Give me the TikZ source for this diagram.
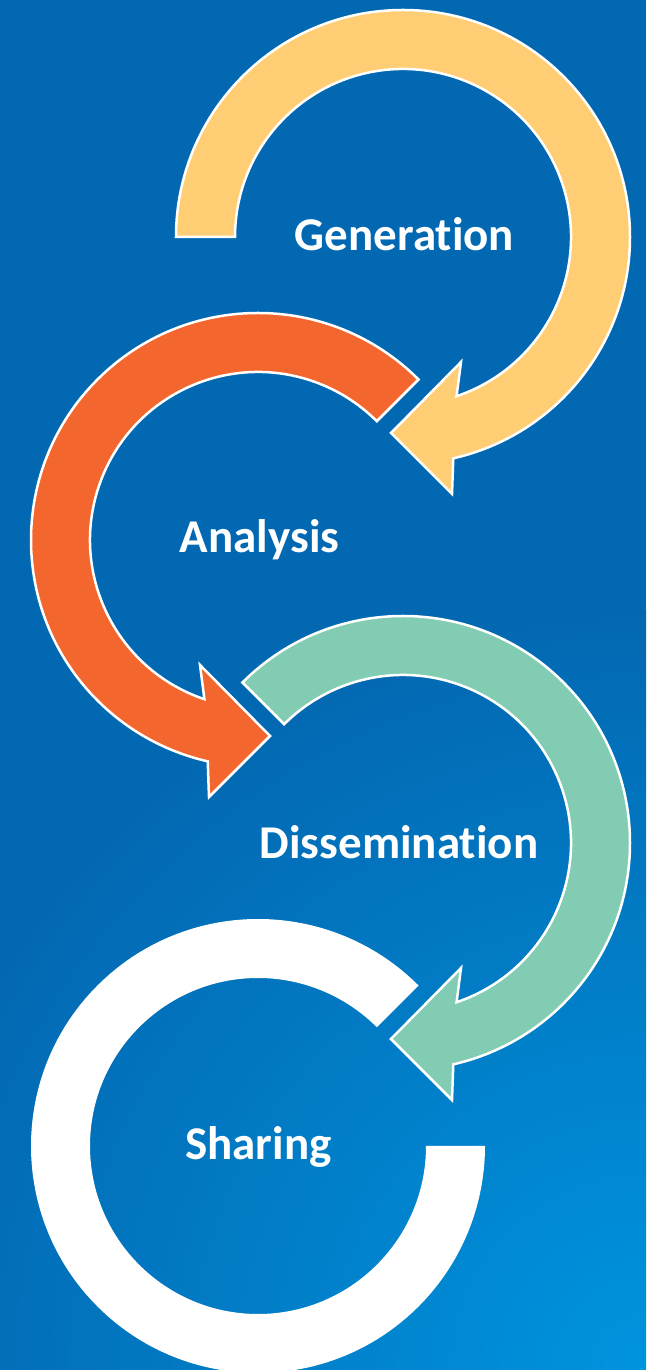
\documentclass[tikz,border=0pt]{standalone}
\usepackage{fontspec}
\setmainfont{Carlito}[Ligatures=NoCommon]
\definecolor{bgblue}{RGB}{3,104,178}
\definecolor{bglight}{RGB}{0,148,222}
\definecolor{genyellow}{RGB}{255,206,116}
\definecolor{anaorange}{RGB}{243,102,46}
\definecolor{disteal}{RGB}{131,204,180}
\tikzset{
  band/.style={draw=white, line width=2.5pt, line join=miter},
  lbl/.style={text=white, font=\fontsize{47}{56}\selectfont\bfseries, inner sep=0pt, anchor=base}
}
\begin{document}
\begin{tikzpicture}[x=1pt,y=1pt]
  \useasboundingbox (0,0) rectangle (646,1370);
  % background with light corner glow
  \fill[bgblue] (0,0) rectangle (646,1370);
  \begin{scope}
    \clip (0,0) rectangle (646,1370);
    \shade[inner color=bglight, outer color=bgblue] (646,0) circle (760);
  \end{scope}

  % Generation: clockwise arc ending in an arrowhead
  \path[band, fill=genyellow, shift={(403,1133)}]
    (180:227) arc[start angle=180, end angle=-77.2, radius=227]
    -- (49,-257) -- (-12,-196) -- (58,-125)
    -- (-71.4:168) arc[start angle=-71.4, end angle=180, radius=168] -- cycle;

  % Analysis: counter-clockwise arc ending in an arrowhead
  \path[band, fill=anaorange, shift={(258,830)}]
    (45:227) arc[start angle=45, end angle=257.2, radius=227]
    -- (-49,-257) -- (12,-196) -- (-58,-125)
    -- (251.4:168) arc[start angle=251.4, end angle=45, radius=168] -- cycle;

  % Dissemination
  \path[band, fill=disteal, shift={(403,527)}]
    (135:227) arc[start angle=135, end angle=-77.2, radius=227]
    -- (49,-257) -- (-12,-196) -- (58,-125)
    -- (-71.4:168) arc[start angle=-71.4, end angle=135, radius=168] -- cycle;

  % Sharing: open white ring
  \fill[white, shift={(258,224)}]
    (45:227) arc[start angle=45, end angle=360, radius=227]
    -- (0:168) arc[start angle=360, end angle=45, radius=168] -- cycle;

  % labels
  \node[lbl] (gen) at (404.5,1119) {Generation};
  \node[lbl] (ana) at (259.5,817) {Analysis};
  \node[lbl] (dis) at (399,511) {Dissemination};
  \node[lbl] (sha) at (258.5,210) {Sharing};
\end{tikzpicture}
\end{document}
